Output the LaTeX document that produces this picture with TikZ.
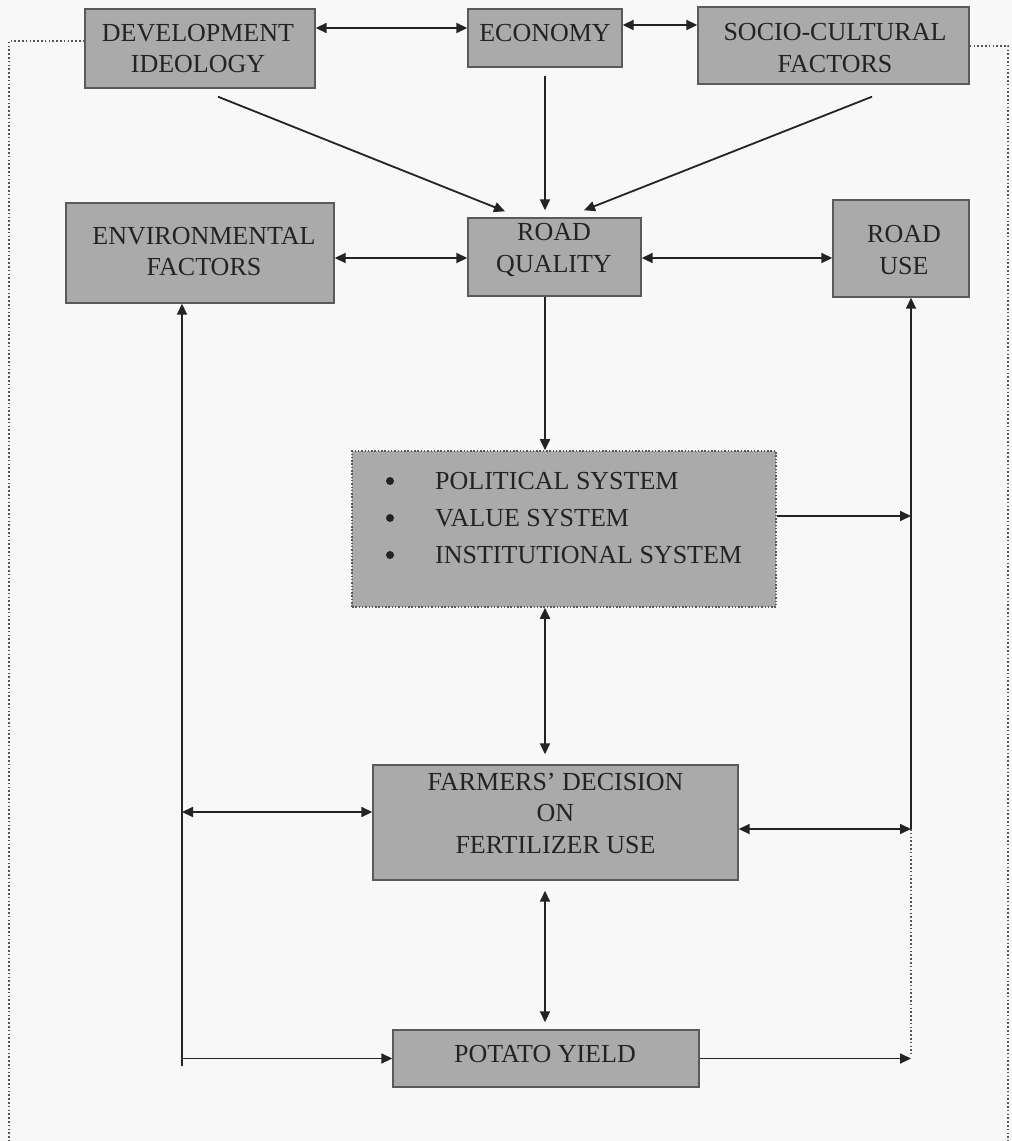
\documentclass[tikz,border=0pt]{standalone}
\usepackage{fontspec}
\setmainfont{Liberation Serif}
\usetikzlibrary{arrows.meta,calc}
\definecolor{boxfill}{RGB}{170,170,170}
\definecolor{boxline}{RGB}{90,90,90}
\definecolor{ink}{RGB}{35,35,35}
\definecolor{paper}{RGB}{248,248,248}
\definecolor{framec}{RGB}{85,85,85}
\begin{document}
\begin{tikzpicture}[x=1pt,y=-1pt,
  box/.style={draw=boxline,fill=boxfill,line width=1.4pt,inner sep=0pt},
  dotbox/.style={draw=boxline,fill=boxfill,line width=1.6pt,inner sep=0pt,dash pattern=on 1.5pt off 1.8pt},
  txt/.style={text=ink,font=\fontsize{26}{31.5}\selectfont,align=center,inner sep=0pt},
  bullet/.style={circle,fill=ink,inner sep=0pt,minimum size=8pt},
  conn/.style={draw=ink,line width=1.8pt},
  one/.style={conn,-{Triangle[length=11pt,width=10pt]}},
  dbl/.style={conn,{Triangle[length=11pt,width=10pt]}-{Triangle[length=11pt,width=10pt]}},
  framel/.style={draw=framec,line width=1.6pt,dash pattern=on 1.6pt off 2.2pt}]
\fill[paper] (0,0) rectangle (1012,1141);
\useasboundingbox (0,0) rectangle (1012,1141);

% boxes
\node[box,minimum width=230pt,minimum height=79pt] (dev) at (200,48.5) {};
\node[box,minimum width=154pt,minimum height=58pt] (econ) at (545,38) {};
\node[box,minimum width=271pt,minimum height=77pt] (socio) at (833.5,45.5) {};
\node[box,minimum width=268pt,minimum height=100pt] (env) at (200,253) {};
\node[box,minimum width=173pt,minimum height=78pt] (rq) at (554.5,257) {};
\node[box,minimum width=136pt,minimum height=97pt] (ruse) at (901,248.5) {};
\node[dotbox,minimum width=424pt,minimum height=156pt] (pol) at (564,529) {};
\node[box,minimum width=365pt,minimum height=115pt] (farm) at (555.5,822.5) {};
\node[box,minimum width=306pt,minimum height=57pt] (pot) at (546,1058.5) {};

% texts
\node[txt] (devt) at (198,48.5) {DEVELOPMENT\\IDEOLOGY};
\node[txt] (econt) at (545,33) {ECONOMY};
\node[txt] (sociot) at (835,48) {SOCIO-CULTURAL\\FACTORS};
\node[txt] (envt) at (204,251.5) {ENVIRONMENTAL\\FACTORS};
\node[txt] (rqt) at (554,250) {ROAD\\QUALITY};
\node[txt] (ruset) at (904,250) {ROAD\\USE};
\node[txt] (farmt) at (555.5,813) {FARMERS’ DECISION\\ON\\FERTILIZER USE};
\node[txt] (pott) at (545,1054) {POTATO YIELD};

\node[bullet] (b1) at (390,481) {};
\node[bullet] (b2) at (390,518) {};
\node[bullet] (b3) at (390,555) {};
\node[txt,anchor=west] (p1) at (435,481) {POLITICAL SYSTEM};
\node[txt,anchor=west] (p2) at (435,518) {VALUE SYSTEM};
\node[txt,anchor=west] (p3) at (435,555) {INSTITUTIONAL SYSTEM};

% junction coordinates
\coordinate (lbot) at (182,1066);
\coordinate (rjoin) at (911,829);
\coordinate (rbot) at (911,1058.5);

% top row
\draw[dbl] (dev.east |- 0,28) -- (econ.west |- 0,28);
\draw[dbl] (econ.east |- 0,25) -- (socio.west |- 0,25);

% into road quality
\draw[one] ([shift={(18,8)}]dev.south) -- ([shift={(-49.5,-6)}]rq.north);
\draw[one] ([shift={(0,8)}]econ.south) -- ([shift={(-9.5,-7)}]rq.north);
\draw[one] ([shift={(38.5,12)}]socio.south) -- ([shift={(29.5,-7)}]rq.north);

% second row
\draw[dbl] (env.east |- 0,258) -- (rq.west |- 0,258);
\draw[dbl] (rq.east |- 0,258) -- (ruse.west |- 0,258);

% road quality to systems
\draw[one] (rq.south -| 545,0) -- (pol.north -| 545,0);

% right side
\draw[one] (pol.east |- 0,516) -- (rjoin |- 0,516);
\draw[one] (rjoin) -- (ruse.south -| rjoin);
\draw[dbl] (farm.east |- rjoin) -- (rjoin);
\draw[framel] (rjoin) -- ($(rbot)+(0,-5)$);

% centre column
\draw[dbl] (pol.south -| 545,0) -- ($(farm.north -| 545,0)+(0,-10)$);
\draw[dbl] ($(farm.south -| 545,0)+(0,10)$) -- ($(pot.north -| 545,0)+(0,-7)$);

% left side
\draw[one] (lbot) -- (env.south -| lbot);
\draw[dbl] (lbot |- 0,812) -- (farm.west |- 0,812);
\draw[one] (lbot |- pot.west) -- (pot.west);

% potato yield to right
\draw[one] (pot.east) -- (rbot);

% page frame
\draw[framel] (dev.west |- 0,41) -- (9,41) -- (9,1141);
\draw[framel] (socio.east |- 0,46) -- (1008,46) -- (1008,1141);
\end{tikzpicture}
\end{document}
